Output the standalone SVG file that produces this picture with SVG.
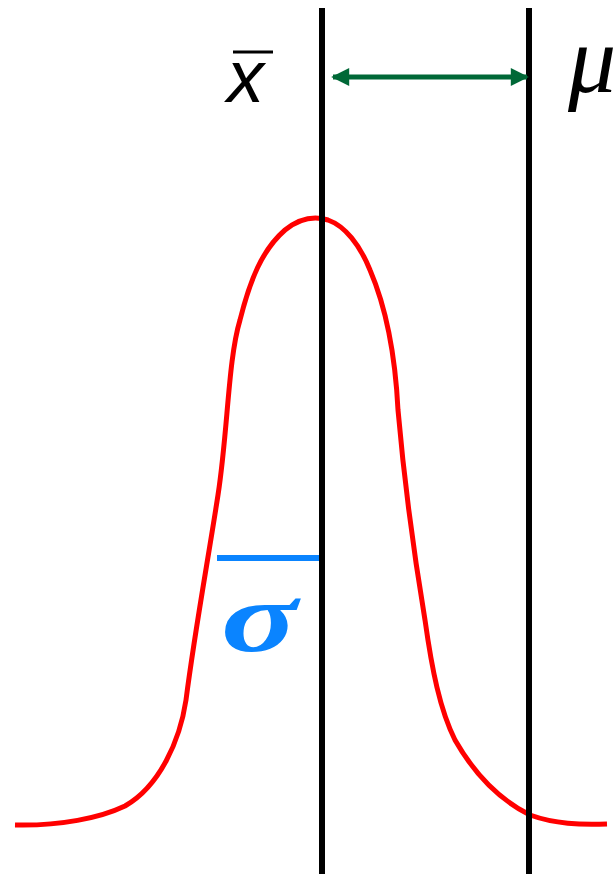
<svg xmlns="http://www.w3.org/2000/svg" width="615" height="874" viewBox="0 0 615 874">
<style>
.axis{stroke:#000;stroke-width:6;fill:none}
.curve{stroke:#ff0000;stroke-width:5;fill:none;stroke-linejoin:round;stroke-linecap:butt}
.sd{stroke:#0a84ff;stroke-width:6;fill:none}
.diff{stroke:#006837;stroke-width:5;fill:none}
</style>
<defs>
<marker id="ah" viewBox="0 0 10 10" refX="9" refY="5" markerWidth="4" markerHeight="3.6" orient="auto-start-reverse" markerUnits="strokeWidth">
<path d="M0,0 L10,5 L0,10 Z" fill="#006837"/>
</marker>
</defs>
<g id="curve">
<path class="curve" d="M15,825 C60,826 100,818 125,806 C160,786 180,740 186,700 C195,630 208,560 218,495 C228,430 228,360 240,320 C250,280 262,250 285,230 C300,218 315,216 328,220 C345,226 360,245 370,270 C385,305 395,350 398,410 C405,490 415,560 425,620 C432,670 440,710 455,740 C475,775 500,800 530,815 C555,824 580,825 607,824"/>
</g>
<g id="sample-mean-line">
<line class="axis" x1="322" y1="8" x2="322" y2="874"/>
</g>
<g id="population-mean-line">
<line class="axis" x1="529" y1="8" x2="529" y2="874"/>
</g>
<g id="sigma">
<line class="sd" x1="217" y1="558" x2="319" y2="558"/>
<text transform="translate(221,651) scale(1.42,1)" font-family="Liberation Serif, serif" font-style="italic" font-weight="bold" font-size="100" fill="#0a84ff">σ</text>
</g>
<g id="xbar">
<line x1="233" y1="52" x2="273" y2="52" stroke="#000" stroke-width="3"/>
<text x="227" y="102" font-family="Liberation Sans, Arial, sans-serif" font-style="italic" font-size="74" fill="#000">x</text>
</g>
<g id="mu">
<text x="568" y="92" font-family="Liberation Serif, serif" font-style="italic" font-size="96" fill="#000">μ</text>
</g>
<g id="connectors">
<line class="diff" x1="333" y1="77" x2="527" y2="77" marker-start="url(#ah)" marker-end="url(#ah)"/>
</g>
</svg>
